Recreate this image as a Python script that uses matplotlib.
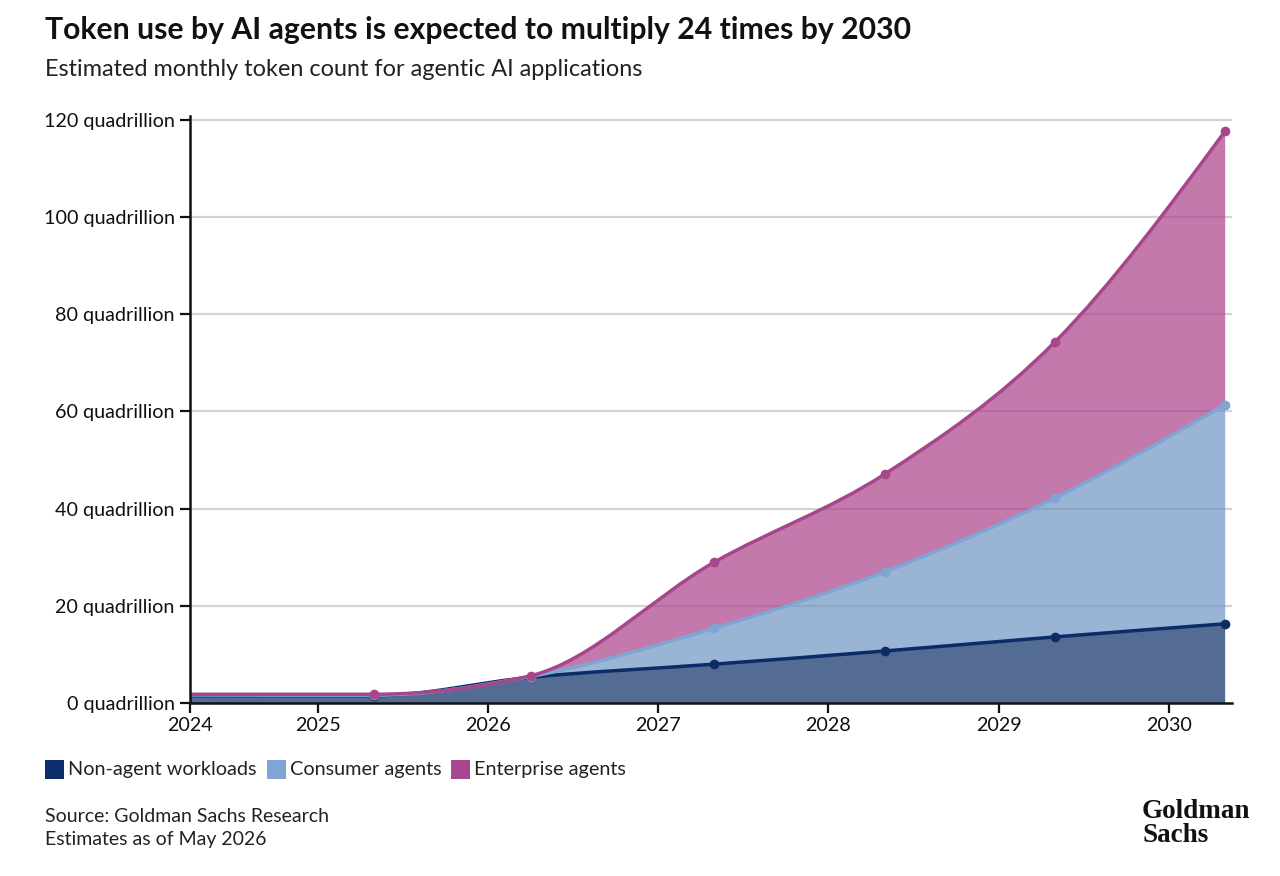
import numpy as np
import matplotlib
matplotlib.use("Agg")
import matplotlib.pyplot as plt
from matplotlib.path import Path
from matplotlib.patches import PathPatch, Rectangle

# ---------------- data ----------------
years = [2024.25, 2025.33, 2026.25, 2027.33, 2028.33, 2029.33, 2030.33]
non_agent = [1.5, 1.5, 5.3, 8.0, 10.7, 13.6, 16.3]
consumer = [0.15, 0.1, 0.15, 7.4, 16.3, 28.6, 45.1]
enterprise = [0.15, 0.2, 0.15, 13.6, 20.1, 32.1, 56.3]
series_names = ["Non-agent workloads", "Consumer agents", "Enterprise agents"]
x_tick_pos = [2024.25, 2025, 2026, 2027, 2028, 2029, 2030]
x_tick_labels = ["2024", "2025", "2026", "2027", "2028", "2029", "2030"]
y_ticks = [0, 20, 40, 60, 80, 100, 120]
y_tick_labels = [f"{v} quadrillion" for v in y_ticks]

title = "Token use by AI agents is expected to multiply 24 times by 2030"
subtitle = "Estimated monthly token count for agentic AI applications"
source_lines = ["Source: Goldman Sachs Research", "Estimates as of May 2026"]

line_colors = ["#0b2c66", "#7ea5d3", "#a8468c"]
fill_colors = ["#0b2c66", "#7094c4", "#ab418b"]
legend_colors = ["#0d2d6a", "#7ea5d3", "#a8478f"]

FONT = "Lato"
plt.rcParams["font.family"] = [FONT, "DejaVu Sans"]


# ------------- monotone-X cubic (d3.curveMonotoneX) as Bezier path -------------
def _sign(v):
    return -1.0 if v < 0 else 1.0


def monotone_tangents(x, y):
    n = len(x)
    t = np.zeros(n)
    for i in range(1, n - 1):
        h0 = x[i] - x[i - 1]
        h1 = x[i + 1] - x[i]
        s0 = (y[i] - y[i - 1]) / h0
        s1 = (y[i + 1] - y[i]) / h1
        p = (s0 * h1 + s1 * h0) / (h0 + h1)
        t[i] = (_sign(s0) + _sign(s1)) * min(abs(s0), abs(s1), 0.5 * abs(p))
    h = x[1] - x[0]
    t[0] = (3 * (y[1] - y[0]) / h - t[1]) / 2
    h = x[-1] - x[-2]
    t[-1] = (3 * (y[-1] - y[-2]) / h - t[-2]) / 2
    return t


def bezier_segments(x, y):
    t = monotone_tangents(x, y)
    verts, codes = [], []
    for i in range(len(x) - 1):
        dx = (x[i + 1] - x[i]) / 3
        verts += [(x[i] + dx, y[i] + dx * t[i]),
                  (x[i + 1] - dx, y[i + 1] - dx * t[i + 1]),
                  (x[i + 1], y[i + 1])]
        codes += [Path.CURVE4] * 3
    return verts, codes


def curve_path(x, y):
    verts, codes = bezier_segments(x, y)
    return Path([(x[0], y[0])] + verts, [Path.MOVETO] + codes)


def area_path(x, lower, upper):
    v_up, c_up = bezier_segments(x, upper)
    xr = x[::-1]
    lr = lower[::-1]
    v_lo, c_lo = bezier_segments(xr, lr)
    verts = [(x[0], upper[0])] + v_up + [(xr[0], lr[0])] + v_lo + [(x[0], upper[0])]
    codes = [Path.MOVETO] + c_up + [Path.LINETO] + c_lo + [Path.CLOSEPOLY]
    return Path(verts, codes)


# ---------------- figure ----------------
W, H = 1280, 876
fig = plt.figure(figsize=(W / 100, H / 100), dpi=100)
ax = fig.add_axes([190 / W, 1 - 703 / H, (1232 - 190) / W, (703 - 116) / H])

x = np.array(years, dtype=float)
s1 = np.array(non_agent, dtype=float)
s2 = s1 + np.array(consumer, dtype=float)
s3 = s2 + np.array(enterprise, dtype=float)
layers = [(np.zeros_like(s1), s1), (s1, s2), (s2, s3)]

for yv in y_ticks:
    if yv > 0:
        ax.axhline(yv, color="#d3d3d3", lw=1.6, zorder=0)

for i, (lo, up) in enumerate(layers):
    ax.add_patch(PathPatch(area_path(x, lo, up), facecolor=fill_colors[i],
                           edgecolor="none", alpha=0.7, zorder=1 + i))
for i, (lo, up) in enumerate(layers):
    ax.add_patch(PathPatch(curve_path(x, up), facecolor="none",
                           edgecolor=line_colors[i], lw=2.5, zorder=5 + i,
                           capstyle="round", joinstyle="round"))
    ax.plot(x[1:], up[1:], "o", ms=7, color=line_colors[i], zorder=8 + i,
            markeredgewidth=0)

ax.set_xlim(2024.25, 2030.37)
ax.set_ylim(0, 120.8)
ax.set_xticks(x_tick_pos)
ax.set_xticklabels(x_tick_labels)
ax.set_yticks(y_ticks)
ax.set_yticklabels(y_tick_labels)
for s in ["top", "right"]:
    ax.spines[s].set_visible(False)
for s in ["left", "bottom"]:
    ax.spines[s].set_linewidth(1.8)
    ax.spines[s].set_color("#111111")
    ax.spines[s].set_zorder(20)
ax.tick_params(axis="both", direction="out", length=7, width=1.6,
               colors="#111111", labelsize=14.2, pad=3)
ax.tick_params(axis="y", pad=4)

# ---------------- texts ----------------
fig.text(45 / W, 1 - 30 / H, title, fontsize=21.7, fontweight="bold",
         color="#111111", va="center", ha="left")
fig.text(45 / W, 1 - 70 / H, subtitle, fontsize=16.9, color="#222222",
         va="center", ha="left")

# legend
lx = 45
for i, name in enumerate(series_names):
    fig.patches.append(Rectangle((lx / W, 1 - 779 / H), 19 / W, 19 / H,
                                 transform=fig.transFigure,
                                 facecolor=legend_colors[i], edgecolor="none"))
    t = fig.text((lx + 23) / W, 1 - 770 / H, name, fontsize=14.3,
                 color="#222222", va="center", ha="left")
    fig.canvas.draw()
    bb = t.get_window_extent()
    lx = bb.x1 + 10

fig.text(45 / W, 1 - 816 / H, source_lines[0], fontsize=14.0,
         color="#222222", va="center", ha="left")
fig.text(45 / W, 1 - 840 / H, source_lines[1], fontsize=14.0,
         color="#222222", va="center", ha="left")

# logo
fig.text(1142 / W, 1 - 812 / H, "Goldman", fontsize=19.5, fontweight="bold",
         family=["Liberation Serif", "DejaVu Serif"], color="#111111",
         va="center", ha="left")
fig.text(1142 / W, 1 - 835 / H, "Sachs", fontsize=19.5, fontweight="bold",
         family=["Liberation Serif", "DejaVu Serif"], color="#111111",
         va="center", ha="left")

fig.savefig("out.png", dpi=100, facecolor="white")
